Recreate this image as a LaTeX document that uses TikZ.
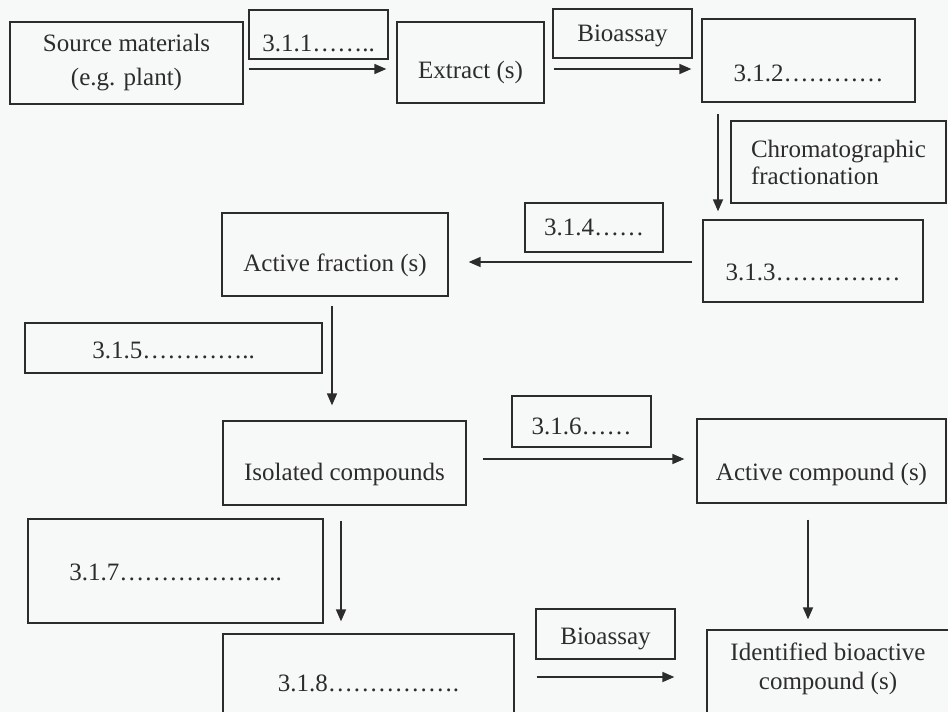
\documentclass[tikz,border=0pt]{standalone}
\usepackage{fontspec}
\setmainfont{Liberation Serif}
\usetikzlibrary{arrows.meta}
\definecolor{ink}{HTML}{2C2C2C}
\definecolor{paper}{HTML}{F7F8F8}
\begin{document}
\begin{tikzpicture}[x=1pt,y=-1pt,
  box/.style={draw=ink, line width=1.3pt, inner sep=0pt, text=ink, font=\fontsize{25}{34}\selectfont},
  txt/.style={inner sep=0pt, text=ink},
  tht/.style={text height=#1, text depth=6pt},
  arr/.style={draw=ink, line width=1.7pt, -{Triangle[length=12pt,width=10pt]}}]
\useasboundingbox (0,0) rectangle (948,712);
\fill[paper] (0,0) rectangle (948,712);
\begin{scope}
\clip (0,0) rectangle (948,712);
% row 1
\node[box, align=center, minimum width=233pt, minimum height=82pt] (src) at (126.5,63) {Source materials\\(e.g. plant)};
\node[box, tht=39pt, minimum width=139pt, minimum height=49pt] (l311) at (318.5,34.5) {3.1.1……..};
\node[box, tht=37pt, minimum width=147pt, minimum height=81pt] (ext) at (470.5,62.5) {Extract (s)};
\node[box, tht=22pt, minimum width=139pt, minimum height=49pt] (bio1) at (622.5,33.5) {Bioassay};
\node[box, tht=47pt, minimum width=213pt, minimum height=83pt] (b312) at (808.5,60.5) {3.1.2…………};
\node[box, align=left, font=\fontsize{25}{27}\selectfont, minimum width=215pt, minimum height=82pt] (chrom) at (838.5,162) {Chromatographic\\fractionation};
% row 2
\node[box, tht=44pt, minimum width=220pt, minimum height=82pt] (b313) at (813,261) {3.1.3……………};
\node[box, tht=22pt, minimum width=138pt, minimum height=49pt] (l314) at (594,227.5) {3.1.4……};
\node[box, tht=39pt, minimum width=226pt, minimum height=83pt] (af) at (335,254.5) {Active fraction (s)};
% row 3
\node[box, tht=26pt, minimum width=297pt, minimum height=50pt] (l315) at (173.5,348) {3.1.5…………..};
\node[box, tht=40pt, minimum width=243pt, minimum height=84pt] (iso) at (344.5,463) {Isolated compounds};
\node[box, tht=31pt, minimum width=139pt, minimum height=51pt] (l316) at (581.5,421.5) {3.1.6……};
\node[box, tht=44pt, minimum width=249pt, minimum height=84pt] (ac) at (821.5,461) {Active compound (s)};
% row 4
\node[box, tht=24pt, minimum width=295pt, minimum height=104pt] (l317) at (175.5,571) {3.1.7………………..};
\node[box, tht=19pt, minimum width=291pt, minimum height=101pt] (b318) at (368.5,684.5) {3.1.8…………….};
\node[box, tht=26pt, minimum width=139pt, minimum height=50pt] (bio2) at (605.5,634) {Bioassay};
\node[box, minimum width=243pt, minimum height=105pt] (idb) at (828.5,682.5) {};
\node[txt, align=center, font=\fontsize{25}{29}\selectfont] (idt) at (828,668.5) {Identified bioactive\\compound (s)};
% connectors
\draw[arr] ([xshift=5pt,yshift=-6pt]src.east) -- ([xshift=-10pt,yshift=-6.5pt]ext.west);
\draw[arr] ([xshift=9pt,yshift=-6.5pt]ext.east) -- ([xshift=-10pt,yshift=-8.5pt]b312.west);
\draw[arr] ([xshift=-90.5pt,yshift=-11pt]b312.south) -- ([xshift=-95pt,yshift=8pt]b313.north);
\draw[arr] ([xshift=-10pt,yshift=-1pt]b313.west) -- ([xshift=20pt,yshift=-7.5pt]af.east);
\draw[arr] ([xshift=-3pt,yshift=-9pt]af.south) -- ([xshift=-12.5pt,yshift=15pt]iso.north);
\draw[arr] ([xshift=16pt,yshift=4pt]iso.east) -- ([xshift=-12pt,yshift=2pt]ac.west);
\draw[arr] ([xshift=-3.5pt,yshift=-15pt]iso.south) -- ([xshift=-27.5pt,yshift=12pt]b318.north);
\draw[arr] ([xshift=-13.5pt,yshift=-16pt]ac.south) -- ([xshift=-20.5pt,yshift=10pt]idb.north);
\draw[arr] ([xshift=22pt,yshift=7.5pt]b318.east) -- ([xshift=-32pt,yshift=5.5pt]idb.west);
\end{scope}
\end{tikzpicture}
\end{document}
